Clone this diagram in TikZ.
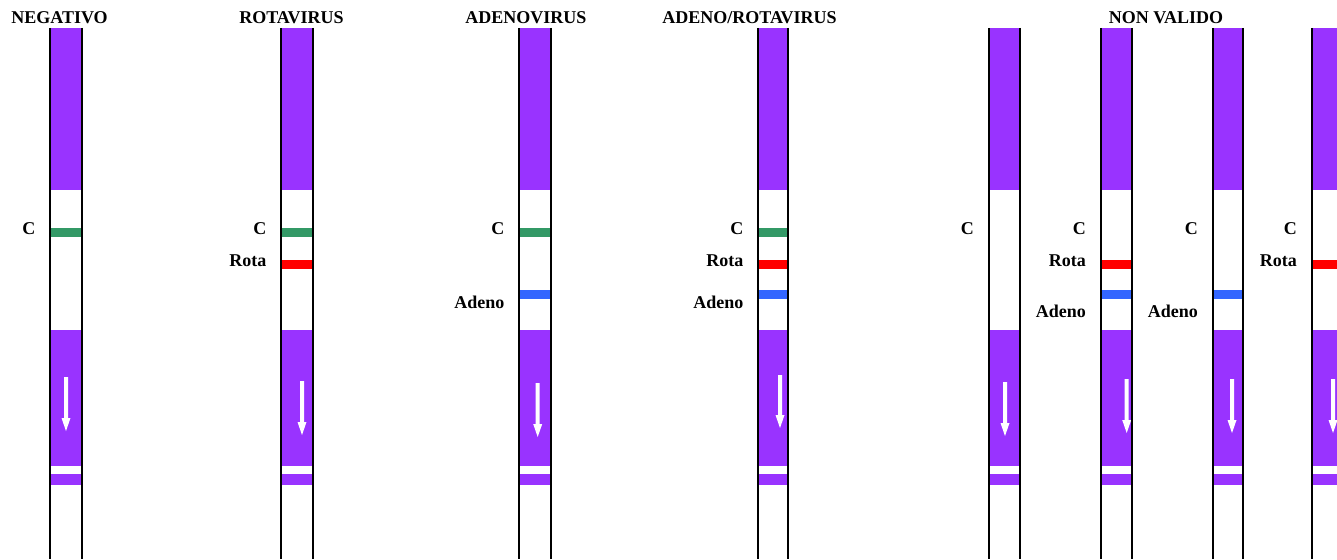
\documentclass[tikz,border=0pt]{standalone}
\usepackage{fontspec}
\setmainfont{Liberation Serif}
\definecolor{stripviolet}{HTML}{9933FF}
\definecolor{ctrlgreen}{HTML}{339966}
\definecolor{rotared}{HTML}{FF0000}
\definecolor{adenoblue}{HTML}{3366FF}
\newcommand\teststrip[5]{%
  % #1 left, #2 right, #3 arrow x, #4 arrow top, #5 arrow tip
  \fill[stripviolet] (#1,28) rectangle (#2,190);
  \fill[stripviolet] (#1,330) rectangle (#2,466);
  \fill[stripviolet] (#1,474) rectangle (#2,485);
  \fill[white] (#3-2,#4) -- (#3+2,#4) -- (#3+2,#5-13) -- (#3+4.5,#5-13) -- (#3,#5) -- (#3-4.5,#5-13) -- (#3-2,#5-13) -- cycle;
  \draw[stripline] (#1,28) -- (#1,559);
  \draw[stripline] (#2,28) -- (#2,559);
}
\newcommand\bandC[2]{\fill[ctrlgreen] (#1,228) rectangle (#2,237);}
\newcommand\bandR[2]{\fill[rotared] (#1,260) rectangle (#2,269);}
\newcommand\bandA[2]{\fill[adenoblue] (#1,290) rectangle (#2,299);}
\begin{document}
\begin{tikzpicture}[x=1pt,y=-1pt,
  stripline/.style={line width=2pt,black},
  lbl/.style={anchor=base east,inner sep=0pt,font=\fontsize{18}{18}\selectfont\bfseries},
  ttl/.style={anchor=base,inner sep=0pt,font=\fontsize{18}{18}\selectfont\bfseries}]
\useasboundingbox (0,0) rectangle (1337,559);
% strips
\teststrip{50}{82}{66}{377}{431}
\teststrip{281}{313}{302}{381}{435}
\teststrip{519}{551}{537.7}{383}{437}
\teststrip{758}{788}{780}{375}{428}
\teststrip{989}{1020}{1005}{382}{436}
\teststrip{1101}{1132}{1126.7}{379}{433}
\teststrip{1213}{1243}{1232}{379}{433}
\teststrip{1312}{1343}{1333}{379}{433}
% bands
\bandC{51}{81}
\bandC{282}{312} \bandR{282}{312}
\bandC{520}{550} \bandA{520}{550}
\bandC{759}{787} \bandR{759}{787} \bandA{759}{787}
\bandR{1102}{1131} \bandA{1102}{1131}
\bandA{1214}{1242}
\bandR{1313}{1342}
% titles
\node[ttl] (t1) at (59.5,24) {NEGATIVO};
\node[ttl] (t2) at (291.5,24) {ROTAVIRUS};
\node[ttl] (t3) at (526,24) {ADENOVIRUS};
\node[ttl] (t4) at (749.5,24) {ADENO/ROTAVIRUS};
\node[ttl] (t5) at (1166,24) {NON VALIDO};
% labels
\node[lbl] (c1) at (35.5,234) {C};
\node[lbl] (c2) at (266.5,234) {C};
\node[lbl] (r2) at (266.5,266) {Rota};
\node[lbl] (c3) at (504.5,234) {C};
\node[lbl] (a3) at (504.5,308) {Adeno};
\node[lbl] (c4) at (743.5,234) {C};
\node[lbl] (r4) at (743.5,266) {Rota};
\node[lbl] (a4) at (743.5,308) {Adeno};
\node[lbl] (c5) at (974,234) {C};
\node[lbl] (c6) at (1086,234) {C};
\node[lbl] (r6) at (1086,266) {Rota};
\node[lbl] (a6) at (1086,317) {Adeno};
\node[lbl] (c7) at (1198,234) {C};
\node[lbl] (a7) at (1198,317) {Adeno};
\node[lbl] (c8) at (1297,234) {C};
\node[lbl] (r8) at (1297,266) {Rota};
\end{tikzpicture}
\end{document}
